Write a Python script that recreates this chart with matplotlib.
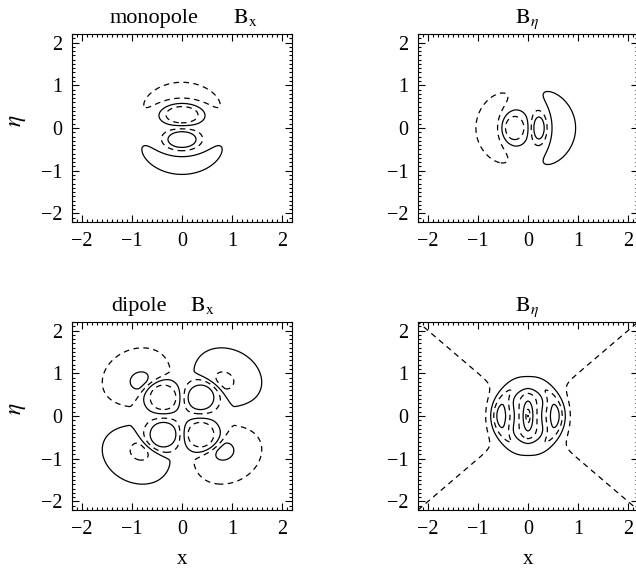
import numpy as np
import matplotlib
matplotlib.use("Agg")
import matplotlib.pyplot as plt
from matplotlib.ticker import MultipleLocator

plt.rcParams['font.family'] = ['Liberation Serif', 'DejaVu Serif']
plt.rcParams['mathtext.fontset'] = 'stix'

# ---- contour levels / styles ----
dash = (0, (4.5, 3.5))
levels_main = [-0.6, -0.2, 0.2, 0.6]
styles_main = [dash, 'solid', dash, 'solid']
levels_dip_eta = [-0.3, -0.2, -0.1, 0.0, 0.1, 0.2, 0.3]
styles_dip_eta = ['solid', dash, 'solid', dash, 'solid', dash, 'solid']

# ---- monopole Bx: two lobes + two crescents ----
mbx_lobe_cx = [0.0, 0.0]
mbx_lobe_cy = [0.31, -0.27]
mbx_lobe_sx = [0.33, 0.30]
mbx_lobe_sy = [0.20, 0.20]
mbx_lobe_amp = [-1.545, 1.45]
mbx_arc_cx = [0.0, 0.0]
mbx_arc_cy = [0.0, 0.0]
mbx_arc_r0 = [0.875, 0.87]
mbx_arc_w = [0.217, 0.24]
mbx_arc_th = [90.0, -90.0]
mbx_arc_sth = [1.22, 1.29]
mbx_arc_amp = [0.45, -0.45]

# ---- monopole B_eta ----
mbe_lobe_cx = [-0.28, 0.22]
mbe_lobe_cy = [0.0, 0.0]
mbe_lobe_sx = [0.24, 0.144]
mbe_lobe_sy = [0.335, 0.34]
mbe_lobe_amp = [-1.21, 1.136]
mbe_arc_cx = [0.30, -0.38]
mbe_arc_cy = [0.0, 0.0]
mbe_arc_r0 = [1.07, 1.08]
mbe_arc_w = [0.27, 0.28]
mbe_arc_th = [180.0, 0.0]
mbe_arc_sth = [0.85, 0.99]
mbe_arc_amp = [0.55, -0.45]

# ---- dipole Bx: four inner lobes + four outer fans ----
dbx_lobe_cx = [0.37, -0.37, -0.37, 0.37]
dbx_lobe_cy = [0.43, 0.43, -0.43, -0.43]
dbx_lobe_sx = [0.29, 0.29, 0.29, 0.29]
dbx_lobe_sy = [0.32, 0.32, 0.32, 0.32]
dbx_lobe_amp = [1.4, -1.4, 1.4, -1.4]
dbx_fan_r0 = 1.08
dbx_fan_win = 0.115
dbx_fan_wout = 0.74
dbx_fan_th = [45.0, 135.0, 225.0, 315.0]
dbx_fan_sth = 0.55
dbx_fan_amp = [-0.70, 0.70, -0.70, 0.70]

# ---- dipole B_eta: core, ring, side troughs, far field ----
dbe_core_amp = 0.32
dbe_core_len = 0.155
dbe_core_ax = [0.65, 2.4]
dbe_ring_amp = -0.16
dbe_ring_r0 = 0.58
dbe_ring_w = 0.15
dbe_ring_aspect = 1.3
dbe_ring_power = 2.0
dbe_trough_amp = -0.26
dbe_trough_x = 0.47
dbe_trough_sx = [0.24, 0.28]
dbe_trough_sy = 0.42
dbe_far_amp = 0.07
dbe_far_core = 0.3


def lobes(x, y, cx, cy, sx, sy, amp):
    f = np.zeros_like(x)
    for i in range(len(amp)):
        f += amp[i] * np.exp(-((x - cx[i]) / sx[i]) ** 2 - ((y - cy[i]) / sy[i]) ** 2)
    return f


def arc(x, y, cx, cy, r0, w_in, w_out, th0, sth):
    r = np.hypot(x - cx, y - cy)
    th = np.arctan2(y - cy, x - cx)
    dth = np.angle(np.exp(1j * (th - np.deg2rad(th0))))
    w = np.where(r < r0, w_in, w_out)
    return np.exp(-((r - r0) / w) ** 2 - (dth / sth) ** 2)


g = np.linspace(-2.2, 2.2, 881)
X, Y = np.meshgrid(g, g)

f_mbx = lobes(X, Y, mbx_lobe_cx, mbx_lobe_cy, mbx_lobe_sx, mbx_lobe_sy, mbx_lobe_amp)
for i in range(2):
    f_mbx += mbx_arc_amp[i] * arc(X, Y, mbx_arc_cx[i], mbx_arc_cy[i], mbx_arc_r0[i],
                                  mbx_arc_w[i], mbx_arc_w[i], mbx_arc_th[i], mbx_arc_sth[i])

f_mbe = lobes(X, Y, mbe_lobe_cx, mbe_lobe_cy, mbe_lobe_sx, mbe_lobe_sy, mbe_lobe_amp)
for i in range(2):
    f_mbe += mbe_arc_amp[i] * arc(X, Y, mbe_arc_cx[i], mbe_arc_cy[i], mbe_arc_r0[i],
                                  mbe_arc_w[i], mbe_arc_w[i], mbe_arc_th[i], mbe_arc_sth[i])

f_dbx = lobes(X, Y, dbx_lobe_cx, dbx_lobe_cy, dbx_lobe_sx, dbx_lobe_sy, dbx_lobe_amp)
for i in range(4):
    f_dbx += dbx_fan_amp[i] * arc(X, Y, 0.0, 0.0, dbx_fan_r0, dbx_fan_win,
                                  dbx_fan_wout, dbx_fan_th[i], dbx_fan_sth)

p = dbe_ring_power
rho_c = np.sqrt((X / dbe_core_ax[0]) ** 2 + (Y / dbe_core_ax[1]) ** 2)
rho_a = (np.abs(X) ** p + np.abs(Y / dbe_ring_aspect) ** p) ** (1 / p)
ax_abs = np.abs(X)
tsx = np.where(ax_abs < dbe_trough_x, dbe_trough_sx[0], dbe_trough_sx[1])
f_dbe = (dbe_core_amp * np.exp(-rho_c / dbe_core_len)
         + dbe_ring_amp * np.exp(-((rho_a - dbe_ring_r0) / dbe_ring_w) ** 2)
         + dbe_trough_amp * np.exp(-((ax_abs - dbe_trough_x) / tsx) ** 2 - (Y / dbe_trough_sy) ** 2)
         + dbe_far_amp * (X ** 2 - Y ** 2) / (X ** 2 + Y ** 2 + dbe_far_core))

fields = [f_mbx, f_mbe, f_dbx, f_dbe]
field_levels = [levels_main, levels_main, levels_main, levels_dip_eta]
field_styles = [styles_main, styles_main, styles_main, styles_dip_eta]

# title pieces: (text, x in axes fraction, horizontal alignment)
title_parts = [
    [('monopole', 0.373, 'center'), (r'$\mathrm{B_x}$', 0.732, 'left')],
    [(r'$\mathrm{B}_\eta$', 0.495, 'center')],
    [('dipole', 0.305, 'center'), (r'$\mathrm{B_x}$', 0.536, 'left')],
    [(r'$\mathrm{B}_\eta$', 0.495, 'center')],
]

W, H = 636, 571


def rect(left, top, w=220, h=188):
    return [left / W, (H - top - h) / H, w / W, h / H]


positions = [rect(72, 34), rect(418, 34), rect(72, 322), rect(418, 322)]

fig = plt.figure(figsize=(6.36, 5.71), dpi=100)
for k in range(4):
    ax = fig.add_axes(positions[k])
    ax.contour(X, Y, fields[k], levels=field_levels[k], colors='k',
               linewidths=0.9, linestyles=field_styles[k])
    ax.set_xlim(-2.2, 2.2)
    ax.set_ylim(-2.2, 2.2)
    ax.set_xticks([-2, -1, 0, 1, 2])
    ax.set_yticks([-2, -1, 0, 1, 2])
    ax.xaxis.set_minor_locator(MultipleLocator(0.1))
    ax.yaxis.set_minor_locator(MultipleLocator(0.1))
    ax.tick_params(which='both', direction='in', top=True, right=True,
                   labelsize=14.5, width=0.8)
    ax.tick_params(which='major', length=5, pad=7)
    ax.tick_params(which='minor', length=2.5)
    for s in ax.spines.values():
        s.set_linewidth(0.8)
    for txt, tx, ha in title_parts[k]:
        ax.text(tx, 1.059, txt, transform=ax.transAxes,
                ha=ha, va='baseline', fontsize=16)
    if k % 2 == 0:
        ax.set_ylabel(r'$\eta$', fontsize=17, rotation=90)
        ax.yaxis.set_label_coords(-0.2, 0.54)
    if k >= 2:
        ax.set_xlabel('x', fontsize=15, labelpad=8)

fig.savefig('out.png', dpi=100)
